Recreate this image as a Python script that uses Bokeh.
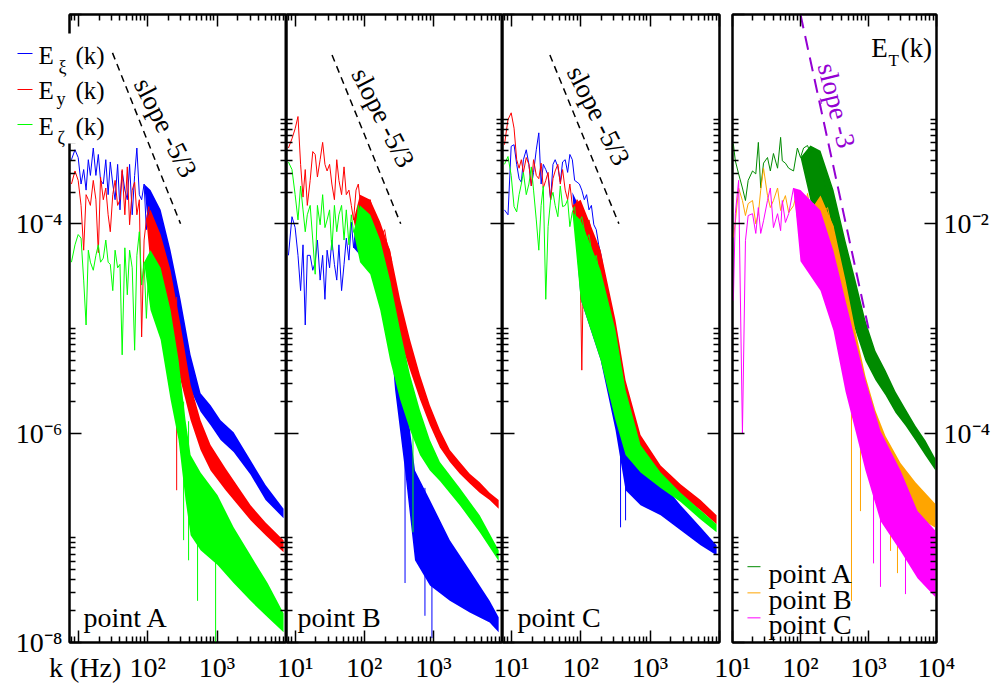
from bokeh.plotting import figure
from bokeh.models import Range1d, FixedTicker, LogAxis, Label, Arrow
from bokeh.layouts import row
from bokeh.embed import file_html
from bokeh.resources import INLINE
from bokeh.core.properties import value

FONT = "Liberation Serif"
BLUE, RED, GREEN = "#0000ff", "#ff0000", "#00ff00"
GREEN4, ORANGE, MAGENTA, VIOLET = "#008b00", "#ffa500", "#ff00ff", "#9400d3"

# ---------------- data ----------------
K_GRID = [8, 9, 10, 11, 12, 13, 14, 15, 16.5, 18, 19.5, 21, 23, 25, 27, 29, 31.5, 34, 37, 40,
          43, 47, 51, 55, 60, 65, 70, 76, 82, 89, 96, 104, 113, 122, 132, 143, 155, 168, 182, 197,
          214, 232, 250]

# point A
A_XI = [4.1e-4, 5.1e-4, 4.3e-4, 2.4e-4, 3.3e-4, 2.1e-4, 4.1e-4, 2.9e-4, 5.3e-4, 2.9e-4,
        4.6e-4, 2.6e-4, 2.4e-4, 4.1e-4, 1.9e-4, 3.9e-4, 2.4e-4, 1.7e-4, 3.7e-4, 1.36e-4,
        3.2e-4, 2.1e-4, 1.7e-4, 3.7e-4, 1.22e-4, 2.9e-4, 5.3e-4, 1.9e-4, 1.7e-4, 2.4e-4,
        8.8e-5, 1.9e-4, 7.0e-5, 1.22e-4, 9.8e-5, 6.3e-5, 7.9e-5, 4.5e-5, 4.7e-5, 3.5e-5,
        2.3e-5, 1.9e-5, 1.2e-5]
A_Y = [2.4e-4, 3.2e-4, 2.6e-4, 1.5e-4, 5.6e-5, 1.9e-4, 1.7e-4, 1.5e-4, 2.6e-4, 1.7e-4,
       5.3e-5, 2.8e-4, 1.7e-4, 2.2e-4, 1.22e-4, 8.4e-5, 1.9e-4, 2.6e-4, 1.5e-4, 1.7e-4,
       3.3e-4, 1.22e-4, 3.5e-4, 9.8e-5, 2.1e-4, 2.5e-4, 1.22e-4, 1.7e-4, 8.3e-6, 7.0e-5,
       1.09e-4, 1.46e-4, 6.3e-5, 9.8e-5, 5.0e-5, 7.0e-5, 4.3e-5, 2.9e-5, 3.6e-5, 1.9e-5,
       2.3e-5, 1.2e-5, 9.7e-6]
A_ZETA = [4.3e-5, 6.3e-5, 7.9e-5, 7.3e-5, 2.9e-5, 1.08e-5, 5.6e-5, 4.3e-5, 3.6e-5, 5.0e-5,
          6.3e-5, 4.3e-5, 4.7e-5, 7.0e-5, 4.3e-5, 4.1e-5, 2.3e-5, 5.6e-5, 3.8e-5, 4.1e-5,
          5.6e-6, 5.9e-5, 2.1e-5, 5.6e-5, 3.8e-5, 6.2e-6, 5.0e-5, 8.4e-5, 2.6e-5, 4.3e-5,
          1.25e-5, 3.8e-5, 2.8e-5, 1.9e-5, 2.3e-5, 1.5e-5, 1.2e-5, 1.7e-5, 7.8e-6, 9.7e-6,
          4.0e-6, 5.0e-6, 2.1e-6]
A_XI_BK = [89, 110, 154, 214, 298, 416, 579, 807, 1125, 1731, 3041, 4998, 9072]
A_XI_HI = [2.4e-4, 2.1e-4, 1.36e-4, 5.6e-5, 1.9e-5, 5.6e-6, 2.4e-6, 1.85e-6, 1.33e-6, 1.02e-6, 5.5e-7, 3.2e-7, 1.9e-7]
A_XI_LO = [2.4e-4, 5.6e-5, 4.1e-5, 1.9e-5, 6.9e-6, 2.6e-6, 1.6e-6, 1.19e-6, 8.6e-7, 6.6e-7, 4.0e-7, 2.3e-7, 1.54e-7]
A_Y_BK = [96, 110, 154, 214, 298, 416, 579, 807, 1328, 3041, 4998, 9072]
A_Y_HI = [1.09e-4, 1.36e-4, 7.9e-5, 3.6e-5, 1.08e-5, 2.9e-6, 1.33e-6, 7.7e-7, 4.6e-7, 2.05e-7, 1.4e-7, 9.5e-8]
A_Y_LO = [1.09e-4, 4.1e-5, 2.3e-5, 9.7e-6, 3.2e-6, 1.33e-6, 6.9e-7, 4.4e-7, 2.85e-7, 1.47e-7, 1.06e-7, 7.3e-8]
A_ZETA_BK = [89, 110, 154, 214, 279, 352, 416, 579, 1018, 1731, 3041, 5343, 9072]
A_ZETA_HI = [4.3e-5, 5.6e-5, 3.8e-5, 1.5e-5, 5.0e-6, 1.33e-6, 6.2e-7, 4.2e-7, 2.55e-7, 1.26e-7, 6.8e-8, 3.7e-8, 1.9e-8]
A_ZETA_LO = [4.3e-5, 1.5e-5, 7.8e-6, 2.1e-6, 8.6e-7, 2.3e-7, 1.06e-7, 7.6e-8, 5.5e-8, 3.7e-8, 2.5e-8, 1.74e-8, 1.25e-8]
A_Y_SPK_K, A_Y_SPK_TOP, A_Y_SPK_BOT = [262], [2.0e-5], [2.85e-7]
A_ZETA_SPK_K = [330, 389, 524, 953]
A_ZETA_SPK_TOP = [2.0e-6, 1.3e-6, 4.0e-7, 1.5e-7]
A_ZETA_SPK_BOT = [9.5e-8, 6.1e-8, 2.5e-8, 1.0e-8]

# point B
B_XI = [5.0e-5, 1.17e-4, 9.2e-5, 5.0e-5, 2.3e-5, 6.3e-5, 1.08e-5, 5.0e-5, 5.0e-5, 3.6e-5,
        4.3e-5, 7.0e-5, 2.9e-5, 5.0e-5, 1.9e-5, 5.6e-5, 3.8e-5, 7.0e-5, 4.1e-5, 2.9e-5,
        6.3e-5, 2.3e-5, 4.1e-5, 7.3e-5, 4.5e-5, 1.04e-4, 5.9e-5, 9.8e-5, 1.3e-4, 7.3e-5,
        1.5e-4, 8.8e-5, 1.13e-4, 1.36e-4, 8.4e-5, 9.8e-5, 7.0e-5, 6.3e-5, 5.0e-5, 4.1e-5,
        2.9e-5, 2.3e-5, 1.5e-5]
B_Y = [5.3e-4, 6.5e-4, 8.1e-4, 1.06e-3, 3.7e-4, 1.8e-4, 3.3e-4, 1.5e-4, 2.6e-4, 4.9e-4,
       4.6e-4, 2.8e-4, 4.1e-4, 6.0e-4, 3.7e-4, 3.2e-4, 3.7e-4, 2.4e-4, 1.7e-4, 4.1e-4,
       2.6e-4, 1.9e-4, 3.5e-4, 1.9e-4, 2.1e-4, 1.5e-4, 1.09e-4, 2.1e-4, 2.4e-4, 1.46e-4,
       1.8e-4, 1.5e-4, 1.27e-4, 1.7e-4, 1.3e-4, 1.17e-4, 1.04e-4, 9.4e-5, 7.9e-5, 8.8e-5,
       6.3e-5, 5.6e-5, 4.3e-5]
B_ZETA = [3.9e-4, 3.3e-4, 1.9e-4, 1.09e-4, 2.3e-4, 1.36e-4, 8.4e-5, 1.22e-4, 1.5e-4, 7.0e-5,
          3.3e-5, 1.5e-4, 9.8e-5, 1.9e-4, 9.2e-5, 1.09e-4, 1.36e-4, 5.6e-5, 1.5e-4, 8.4e-5,
          1.22e-4, 1.5e-4, 7.0e-5, 1.36e-4, 6.3e-5, 1.22e-4, 8.4e-5, 7.9e-5, 1.5e-4, 5.6e-5,
          1.09e-4, 8.4e-5, 7.0e-5, 9.8e-5, 6.3e-5, 7.0e-5, 5.0e-5, 5.6e-5, 3.8e-5, 4.3e-5,
          2.6e-5, 2.9e-5, 1.9e-5]
B_XI_BK = [70, 87, 122, 170, 236, 279, 389, 542, 891, 1731, 3358, 6514, 8800]
B_XI_HI = [5.9e-5, 1.7e-4, 1.5e-4, 8.8e-5, 3.6e-5, 1.5e-5, 2.6e-6, 4.4e-7, 2.3e-7, 9.5e-8, 4.9e-8, 2.5e-8, 1.74e-8]
B_XI_LO = [5.9e-5, 5.0e-5, 4.1e-5, 2.3e-5, 9.7e-6, 2.6e-6, 4.4e-7, 6.1e-8, 3.5e-8, 2.5e-8, 1.94e-8, 1.55e-8, 1.25e-8]
B_Y_BK = [70, 87, 122, 170, 236, 330, 460, 640, 891, 1243, 1731, 2411, 3358, 4677, 6514, 8800]
B_Y_HI = [1.09e-4, 1.9e-4, 1.7e-4, 1.04e-4, 5.6e-5, 1.9e-5, 7.8e-6, 3.6e-6, 1.85e-6, 1.07e-6, 6.9e-7, 5.3e-7, 4.1e-7, 3.4e-7, 2.7e-7, 2.3e-7]
B_Y_LO = [1.09e-4, 5.6e-5, 4.3e-5, 2.9e-5, 1.9e-5, 7.8e-6, 4.0e-6, 2.1e-6, 1.19e-6, 7.3e-7, 5.3e-7, 4.1e-7, 3.3e-7, 2.7e-7, 2.3e-7, 1.9e-7]
B_ZETA_BK = [70, 87, 122, 170, 236, 330, 460, 640, 891, 1243, 2411, 4677, 8800]
B_ZETA_HI = [8.4e-5, 1.5e-4, 1.22e-4, 7.0e-5, 2.9e-5, 9.7e-6, 3.6e-6, 1.66e-6, 8.6e-7, 5.3e-7, 3.0e-7, 1.64e-7, 7.6e-8]
B_ZETA_LO = [8.4e-5, 4.3e-5, 3.3e-5, 1.5e-5, 5.0e-6, 2.1e-6, 1.07e-6, 6.2e-7, 4.4e-7, 3.5e-7, 2.05e-7, 1.13e-7, 6.0e-8]
B_XI_SPK_K = [389, 755, 953]
B_XI_SPK_TOP = [1.0e-6, 3.0e-7, 2.0e-7]
B_XI_SPK_BOT = [3.7e-8, 1.8e-8, 1.1e-8]
B_ZETA_SPK_K, B_ZETA_SPK_TOP, B_ZETA_SPK_BOT = [507], [1.0e-6], [1.13e-7]

# point C
C_XI = [1.36e-4, 1.22e-4, 5.5e-4, 5.7e-4, 3.7e-4, 2.7e-4, 2.5e-4, 4.1e-4, 5.1e-4, 3.7e-4,
        2.3e-4, 3.1e-4, 5.1e-4, 7.4e-4, 2.4e-4, 3.7e-4, 3.3e-4, 2.9e-4, 1.7e-4, 3.7e-4,
        4.1e-4, 3.5e-4, 2.5e-4, 3.9e-4, 4.1e-4, 3.1e-4, 4.6e-4, 4.1e-4, 2.6e-4, 2.5e-4,
        2.4e-4, 2.1e-4, 1.7e-4, 1.9e-4, 1.36e-4, 1.5e-4, 9.8e-5, 8.8e-5, 6.3e-5, 5.0e-5,
        3.6e-5, 2.3e-5, 1.7e-5]
C_Y = [5.7e-4, 9.9e-4, 1.15e-3, 8.2e-4, 4.1e-4, 3.4e-4, 4.1e-4, 3.1e-4, 4.3e-4, 3.7e-4,
       2.3e-4, 4.1e-4, 2.9e-4, 2.7e-4, 3.8e-4, 2.2e-4, 2.6e-4, 3.1e-4, 1.7e-4, 2.7e-4,
       3.2e-4, 3.7e-4, 2.4e-4, 3.3e-4, 2.1e-4, 1.7e-4, 2.4e-4, 1.5e-4, 1.36e-4, 1.7e-4,
       1.46e-4, 4.0e-6, 1.22e-4, 9.8e-5, 1.09e-4, 8.4e-5, 7.0e-5, 6.3e-5, 5.0e-5, 4.3e-5,
       3.6e-5, 2.6e-5, 2.1e-5]
C_ZETA = [3.7e-4, 4.4e-4, 2.9e-4, 1.46e-4, 1.3e-4, 1.9e-4, 2.4e-4, 3.1e-4, 1.9e-4, 2.4e-4,
          3.5e-4, 2.1e-4, 1.09e-4, 5.6e-5, 1.5e-4, 2.3e-4, 1.9e-5, 9.4e-5, 1.7e-4, 2.0e-4,
          1.5e-4, 1.17e-4, 2.3e-4, 1.46e-4, 1.5e-4, 1.7e-4, 9.4e-5, 1.3e-4, 1.46e-4, 8.2e-5,
          1.04e-4, 1.17e-4, 8.8e-5, 7.0e-5, 7.9e-5, 5.6e-5, 4.5e-5, 5.0e-5, 3.6e-5, 2.9e-5,
          2.1e-5, 1.5e-5, 1.2e-5]
C_BK = [76, 100, 194, 318, 444, 730, 1420, 2754, 5343, 9072]
C_Y_HI = [1.5e-4, 1.7e-4, 5.6e-5, 1.2e-5, 3.2e-6, 9.6e-7, 4.9e-7, 3.25e-7, 2.3e-7, 1.64e-7]
C_Y_LO = [1.5e-4, 2.9e-5, 9.7e-6, 1.66e-6, 8.6e-7, 5.8e-7, 3.7e-7, 2.6e-7, 1.83e-7, 1.35e-7]
C_ZETA_HI = [1.3e-4, 1.09e-4, 3.6e-5, 9.7e-6, 2.6e-6, 7.7e-7, 4.2e-7, 2.7e-7, 1.83e-7, 1.35e-7]
C_ZETA_LO = [1.3e-4, 1.9e-5, 5.0e-6, 1.33e-6, 6.2e-7, 4.2e-7, 3.0e-7, 2.2e-7, 1.5e-7, 1.13e-7]
C_XI_HI = [2.0e-4, 1.36e-4, 3.6e-5, 7.8e-6, 2.1e-6, 6.2e-7, 3.5e-7, 2.05e-7, 1.26e-7, 8.5e-8]
C_XI_LO = [2.0e-4, 1.9e-5, 5.0e-6, 1.07e-6, 2.85e-7, 2.05e-7, 1.64e-7, 1.18e-7, 8.5e-8, 6.8e-8]
C_XI_SPK_K, C_XI_SPK_TOP, C_XI_SPK_BOT = [376, 444], [1.0e-6, 8.0e-7], [1.26e-7, 1.47e-7]

# total energy E_T(k)
T_GRID = [10.3, 11, 12.3, 14, 15.5, 17, 19.7, 22, 24, 26, 28.6, 32.7, 36, 40, 46, 51, 54, 60,
          67, 79, 90, 100, 111, 127, 140, 155, 178, 197, 218, 250, 276, 306]
T_A = [5.8e-2, 4.0e-2, 3.0e-2, 2.2e-2, 1.67e-2, 2.6e-2, 3.2e-2, 3.0e-2, 6.0e-2, 2.2e-2,
       3.8e-2, 4.3e-2, 3.2e-2, 4.7e-2, 3.4e-2, 6.7e-2, 4.0e-2, 3.8e-2, 3.4e-2, 3.2e-2,
       5.3e-2, 4.3e-2, 5.3e-2, 5.6e-2, 4.7e-2, 5.3e-2, 5.0e-2, 3.4e-2, 2.6e-2, 1.95e-2,
       1.43e-2, 9.2e-3]
T_B = [7.4e-3, 1.03e-2, 2.2e-2, 1.67e-2, 1.2e-2, 1.56e-2, 1.67e-2, 1.0e-2, 1.25e-2, 2.1e-2,
       3.4e-2, 1.86e-2, 1.43e-2, 1.67e-2, 2.2e-2, 1.34e-2, 1.56e-2, 1.86e-2, 1.28e-2, 1.49e-2,
       2.1e-2, 1.67e-2, 1.2e-2, 1.95e-2, 1.34e-2, 1.56e-2, 1.2e-2, 1.67e-2, 1.28e-2, 1.43e-2,
       1.07e-2, 9.2e-3]
T_C = [1.85e-3, 1.25e-2, 2.6e-2, 1.0e-4, 6.9e-3, 1.2e-2, 1.25e-2, 8.1e-3, 1.43e-2, 8.1e-3,
       1.07e-2, 1.67e-2, 2.2e-2, 9.2e-3, 1.25e-2, 8.6e-3, 1.67e-2, 1.03e-2, 1.25e-2, 2.2e-2,
       1.15e-2, 1.49e-2, 1.67e-2, 1.0e-2, 1.34e-2, 7.7e-3, 1.2e-2, 6.9e-3, 9.6e-3, 5.5e-3,
       6.2e-3, 4.4e-3]
T_A_BK = [100, 140, 197, 306, 459, 644, 903, 1268, 1778, 2494, 3499, 4909, 6886, 9660]
T_A_HI = [4.3e-2, 5.6e-2, 5.0e-2, 2.1e-2, 6.9e-3, 2.9e-3, 1.19e-3, 6.1e-4, 4.0e-4, 2.5e-4, 1.71e-4, 1.18e-4, 8.5e-5, 5.7e-5]
T_A_LO = [4.3e-2, 1.67e-2, 1.2e-2, 4.4e-3, 1.85e-3, 9.5e-4, 4.9e-4, 3.2e-4, 2.3e-4, 1.57e-4, 1.18e-4, 8.5e-5, 6.1e-5, 4.4e-5]
T_B_BK = [140, 197, 306, 459, 644, 903, 1268, 1778, 2958, 4909, 9660]
T_B_HI = [1.34e-2, 1.86e-2, 9.6e-3, 2.9e-3, 9.5e-4, 3.5e-4, 1.64e-4, 9.4e-5, 5.2e-5, 3.4e-5, 2.1e-5]
T_B_LO = [1.34e-2, 4.4e-3, 1.85e-3, 6.1e-4, 2.0e-4, 8.5e-5, 5.4e-5, 3.5e-5, 2.26e-5, 1.62e-5, 1.25e-5]
T_C_BK = [79, 100, 197, 306, 459, 644, 903, 1500, 2958, 5260, 9660]
T_C_HI = [2.2e-2, 2.1e-2, 1.34e-2, 5.5e-3, 1.85e-3, 7.6e-4, 3.2e-4, 1.05e-4, 4.4e-5, 1.8e-5, 1.17e-5]
T_C_LO = [2.2e-2, 4.4e-3, 2.3e-3, 9.5e-4, 2.5e-4, 1.05e-4, 4.4e-5, 1.45e-5, 7.5e-6, 4.1e-6, 2.7e-6]
T_B_SPK_K = [562, 762, 2109, 2667]
T_B_SPK_TOP = [3.0e-4, 4.0e-4, 5.0e-5, 4.0e-5]
T_B_SPK_BOT = [2.5e-6, 1.8e-5, 7.5e-6, 4.6e-6]
T_C_SPK_K = [1186, 1500, 3499]
T_C_SPK_TOP = [1.0e-4, 3.0e-5, 2.0e-5]
T_C_SPK_BOT = [5.7e-6, 3.4e-6, 2.9e-6]

# reference slopes
SLOPE_A_K, SLOPE_A_E = [31.2, 298], [4.3e-3, 1.0e-4]
SLOPE_B_K, SLOPE_B_E = [34.2, 337], [4.1e-3, 1.0e-4]
SLOPE_C_K, SLOPE_C_E = [36.1, 356], [4.1e-3, 1.0e-4]
SLOPE_T_K, SLOPE_T_E = [100, 1000], [1.0, 1.0e-3]

# tick labels
NB = "\u00a0"
XL_A = {10: NB * 2 + "k (Hz)", 100: "10²", 1000: "10³", 10000: " "}
XL_BC = {10: "10¹", 100: "10²", 1000: "10³", 10000: " "}
XL_T = {10: "10¹", 100: "10²", 1000: "10³", 10000: "10⁴"}
YL_A = {1e-8: "10⁻⁸", 1e-6: "10⁻⁶", 1e-4: "10⁻⁴", 1e-2: " "}
YL_T = {1e-6: " ", 1e-4: "10⁻⁴", 1e-2: "10⁻²", 1: " "}
HIDDEN_X = {10: " ", 100: " ", 1000: " ", 10000: " "}
HIDDEN_YA = {1e-8: " ", 1e-6: " ", 1e-4: " ", 1e-2: " "}
HIDDEN_YT = {1e-6: " ", 1e-4: " ", 1e-2: " ", 1: " "}

# legend entries
LEG_COLORS = [BLUE, RED, GREEN]
LEG_SUBS = ["ξ", "y", "ζ"]
T_LEG_NAMES = ["point A", "point B", "point C"]
T_LEG_COLORS = [GREEN4, ORANGE, MAGENTA]

# ---------------- layout helpers ----------------
X_MAJOR = [10, 100, 1000, 10000]
X_MINOR_7 = [8, 9] + [m * d for d in (10, 100, 1000) for m in range(2, 10)]
X_MINOR_10 = [m * d for d in (10, 100, 1000) for m in range(2, 10)]
Y_MAJOR_A = [1e-8, 1e-6, 1e-4, 1e-2]
Y_MINOR_A = [m * d for d in (1e-8, 1e-6, 1e-4) for m in range(2, 11)]
Y_MAJOR_T = [1e-6, 1e-4, 1e-2, 1]
Y_MINOR_T = [m * d for d in (1e-6, 1e-4, 1e-2) for m in range(2, 11)]


def style_axis(ax, ticks, minor, overrides, show, both=False, standoff=7):
    ax.ticker = FixedTicker(ticks=ticks, minor_ticks=minor)
    ax.major_label_overrides = overrides
    ax.major_tick_in = 12
    ax.major_tick_out = 12 if both else 0
    ax.minor_tick_in = 6
    ax.minor_tick_out = 6 if both else 0
    ax.axis_line_width = 2
    ax.major_tick_line_width = 1.5
    ax.minor_tick_line_width = 1.5
    ax.major_label_text_font = FONT
    ax.major_label_text_color = "black"
    if show:
        ax.major_label_text_font_size = "28px"
        ax.major_label_standoff = standoff
    else:
        ax.major_label_text_font_size = "1px"
        ax.major_label_standoff = 0


def make_panel(xr, yr, frame_w, bl, br, xminor, yticks, yminor, xl,
               left_cfg, right_cfg):
    p = figure(x_axis_type="log", y_axis_type="log",
               x_range=Range1d(*xr), y_range=Range1d(*yr),
               frame_width=frame_w, frame_height=628,
               min_border=0, min_border_left=bl, min_border_right=br,
               min_border_top=14, min_border_bottom=41,
               toolbar_location=None, output_backend="svg",
               background_fill_color="white", border_fill_color=None,
               outline_line_color="black", outline_line_width=2)
    p.xgrid.visible = False
    p.ygrid.visible = False
    style_axis(p.below[0], X_MAJOR, xminor, xl, True, standoff=9)
    ov, show, both = left_cfg
    style_axis(p.left[0], yticks, yminor, ov, show, both)
    top = LogAxis()
    style_axis(top, X_MAJOR, xminor, HIDDEN_X, False)
    p.add_layout(top, "above")
    if right_cfg is not None:
        ov, show, both = right_cfg
        right = LogAxis()
        style_axis(right, yticks, yminor, ov, show, both)
        p.add_layout(right, "right")
    return p


def curve(p, color, k, e, bk, hi, lo, sk=None, stop=None, sbot=None):
    p.varea(x=bk, y1=lo, y2=hi, fill_color=color, fill_alpha=1.0)
    p.line(x=k, y=e, line_color=color, line_width=1)
    if sk:
        p.segment(x0=sk, y0=stop, x1=sk, y1=sbot, line_color=color, line_width=1)


def lab(p, x, y, text, size, color="black", angle=0.0, align="left", baseline="alphabetic"):
    p.add_layout(Label(x=x, y=y, text=text, text_font=FONT, text_font_size=size,
                       text_color=color, angle=angle, text_align=align,
                       text_baseline=baseline))


# ---------------- panel A ----------------
pA = make_panel((7.5, 1e4), (1e-8, 1e-2), 217, 69, 0, X_MINOR_7, Y_MAJOR_A, Y_MINOR_A, XL_A,
                (YL_A, True, False), None)
curve(pA, BLUE, K_GRID, A_XI, A_XI_BK, A_XI_HI, A_XI_LO)
curve(pA, RED, K_GRID, A_Y, A_Y_BK, A_Y_HI, A_Y_LO, A_Y_SPK_K, A_Y_SPK_TOP, A_Y_SPK_BOT)
curve(pA, GREEN, K_GRID, A_ZETA, A_ZETA_BK, A_ZETA_HI, A_ZETA_LO, A_ZETA_SPK_K, A_ZETA_SPK_TOP, A_ZETA_SPK_BOT)
pA.line(x=SLOPE_A_K, y=SLOPE_A_E, line_color="black", line_width=1.5, line_dash="7 5")
lab(pA, 181, 8.3e-4, "slope -5/3", "27px", angle=-1.10, align="center", baseline="middle")
lab(pA, 11.9, 1.73e-8, "point A", "28px")

# legend box of panel A: a transparent overlay plot in pixel coordinates (y downwards);
# its frame is aligned with the other frames (top at 14 px), so the y range starts at 14
pL = figure(frame_width=90, frame_height=683, x_range=Range1d(0, 90), y_range=Range1d(697, 14),
            min_border=0, toolbar_location=None, output_backend="svg",
            x_axis_location=None, y_axis_location=None, title=None,
            background_fill_color=None, border_fill_color=None, outline_line_color=None)
pL.grid.visible = False
pL.margin = (0, 0, 0, -271)
pL.quad(left=[0], right=[90], top=[33], bottom=[143], fill_color="white", line_color=None)
ROW_Y = [53, 89, 124]
BASE_Y = [55, 90, 126]
SUB_Y = [66, 98, 137]
pL.segment(x0=[2, 2, 2], y0=ROW_Y, x1=[17, 17, 17], y1=ROW_Y, line_color=LEG_COLORS, line_width=1)
pL.text(x=[23, 23, 23], y=BASE_Y, text=["E", "E", "E"], text_font=value(FONT),
        text_font_size="25px", text_baseline="alphabetic", text_color="black")
pL.text(x=[43, 41, 42], y=SUB_Y, text=LEG_SUBS, text_font=value(FONT),
        text_font_size="18px", text_baseline="alphabetic", text_color="black")
pL.text(x=[60, 60, 60], y=BASE_Y, text=["(k)", "(k)", "(k)"], text_font=value(FONT),
        text_font_size="25px", text_baseline="alphabetic", text_color="black")

# ---------------- panel B ----------------
pB = make_panel((7.5, 1e4), (1e-8, 1e-2), 216, 20, 0, X_MINOR_7, Y_MAJOR_A, Y_MINOR_A, XL_BC,
                (HIDDEN_YA, False, True), None)
pB.margin = (0, 0, 0, 161)
curve(pB, BLUE, K_GRID, B_XI, B_XI_BK, B_XI_HI, B_XI_LO, B_XI_SPK_K, B_XI_SPK_TOP, B_XI_SPK_BOT)
curve(pB, RED, K_GRID, B_Y, B_Y_BK, B_Y_HI, B_Y_LO)
curve(pB, GREEN, K_GRID, B_ZETA, B_ZETA_BK, B_ZETA_HI, B_ZETA_LO, B_ZETA_SPK_K, B_ZETA_SPK_TOP, B_ZETA_SPK_BOT)
pB.line(x=SLOPE_B_K, y=SLOPE_B_E, line_color="black", line_width=1.5, line_dash="7 5")
lab(pB, 188, 1.03e-3, "slope -5/3", "27px", angle=-1.10, align="center", baseline="middle")
lab(pB, 10.8, 1.73e-8, "point B", "28px")

# ---------------- panel C ----------------
pC = make_panel((7.5, 1e4), (1e-8, 1e-2), 217, 20, 6, X_MINOR_7, Y_MAJOR_A, Y_MINOR_A, XL_BC,
                (HIDDEN_YA, False, True), (HIDDEN_YA, False, False))
pC.margin = (0, 0, 0, -20)
curve(pC, BLUE, K_GRID, C_XI, C_BK, C_XI_HI, C_XI_LO, C_XI_SPK_K, C_XI_SPK_TOP, C_XI_SPK_BOT)
curve(pC, RED, K_GRID, C_Y, C_BK, C_Y_HI, C_Y_LO)
curve(pC, GREEN, K_GRID, C_ZETA, C_BK, C_ZETA_HI, C_ZETA_LO)
pC.line(x=SLOPE_C_K, y=SLOPE_C_E, line_color="black", line_width=1.5, line_dash="7 5")
lab(pC, 181, 1.08e-3, "slope -5/3", "27px", angle=-1.10, align="center", baseline="middle")
lab(pC, 12.3, 1.73e-8, "point C", "28px")

# ---------------- panel E_T ----------------
pT = make_panel((10, 1e4), (1e-6, 1), 204, 21, 56, X_MINOR_10, Y_MAJOR_T, Y_MINOR_T, XL_T,
                (HIDDEN_YT, False, False), (YL_T, True, False))
pT.margin = (0, 0, 0, -14)
curve(pT, GREEN4, T_GRID, T_A, T_A_BK, T_A_HI, T_A_LO)
curve(pT, ORANGE, T_GRID, T_B, T_B_BK, T_B_HI, T_B_LO, T_B_SPK_K, T_B_SPK_TOP, T_B_SPK_BOT)
curve(pT, MAGENTA, T_GRID, T_C, T_C_BK, T_C_HI, T_C_LO, T_C_SPK_K, T_C_SPK_TOP, T_C_SPK_BOT)
pT.line(x=SLOPE_T_K, y=SLOPE_T_E, line_color=VIOLET, line_width=2, line_dash="14 8")
lab(pT, 340, 0.135, "slope -3", "27px", color=VIOLET, angle=-1.33, align="center", baseline="middle")
lab(pT, 1097, 0.483, "E", "27px")
lab(pT, 1968, 0.363, "T", "17px")
lab(pT, 2955, 0.483, "(k)", "27px")
for col, ysamp, ybase, name in zip(T_LEG_COLORS, [5.3e-6, 2.98e-6, 1.72e-6],
                                   [4.6e-6, 2.6e-6, 1.47e-6], T_LEG_NAMES):
    pT.add_layout(Arrow(end=None, x_start=16.6, y_start=ysamp, x_end=25.8, y_end=ysamp,
                        line_color=col, line_width=1))
    lab(pT, 33.8, ybase, name, "28px")

layout = row(pA, pL, pB, pC, pT)
open("out.html", "w").write(file_html(layout, INLINE))
